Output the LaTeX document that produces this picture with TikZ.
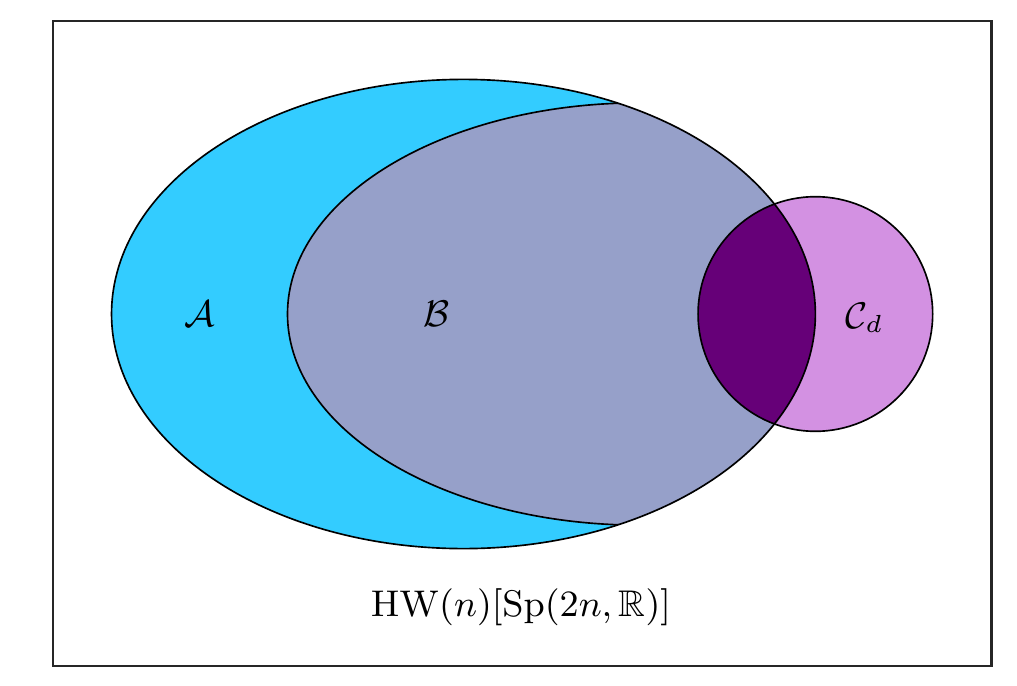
\documentclass[tikz,border=0pt]{standalone}
\usepackage{amssymb}
\definecolor{colA}{RGB}{51,204,255}
\definecolor{colB}{RGB}{150,160,201}
\definecolor{colC}{RGB}{211,145,226}
\definecolor{colAC}{RGB}{102,0,120}
\tikzset{
  setline/.style={draw=black, line width=0.4pt},
  lbl/.style={font=\small, inner sep=0pt},
  frame/.style={draw=black!85, line width=0.6pt}
}
\begin{document}
\begin{tikzpicture}
\useasboundingbox (-3.951,-3.163) rectangle (4.719,2.677);
\draw[frame] (-3.5,-3) rectangle (4.5,2.5);
% A
\fill[colA] (0,0) ellipse (3 and 2);
% B clipped to A
\begin{scope}
  \clip (0,0) ellipse (3 and 2);
  \fill[colB] (1.5,0) ellipse (3 and 1.8);
\end{scope}
% C
\fill[colC] (3,0) circle (1);
\begin{scope}
  \clip (0,0) ellipse (3 and 2);
  \fill[colAC] (3,0) circle (1);
\end{scope}
% outlines
\begin{scope}
  \clip (0,0) ellipse (3 and 2);
  \draw[setline] (1.5,0) ellipse (3 and 1.8);
\end{scope}
\draw[setline] (0,0) ellipse (3 and 2);
\draw[setline] (3,0) circle (1);
% labels
\node[lbl] (la) at (-2.25,0) {$\mathcal{A}$};
\node[lbl] (lb) at (-0.23,0) {$\mathcal{B}$};
\node[lbl] (lc) at (3.42,-0.03) {$\mathcal{C}_d$};
\node[lbl] (lhw) at (0.49,-2.5) {$\mathrm{HW}(n)[\mathrm{Sp}(2n,\mathbb{R})]$};
\end{tikzpicture}
\end{document}
